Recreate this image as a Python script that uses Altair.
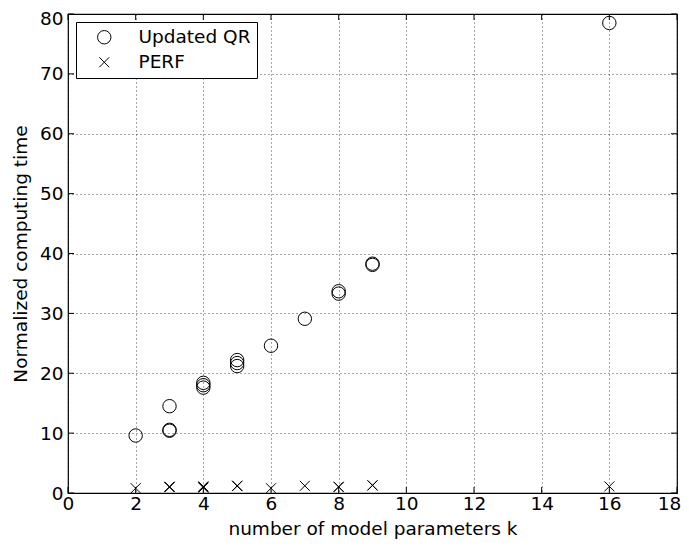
import altair as alt
import pandas as pd

# ---- data ----
series = ["Updated QR", "PERF"]
qr_k = [2, 3, 3, 3, 4, 4, 4, 5, 5, 5, 6, 7, 8, 8, 9, 9, 16]
qr_time = [9.6, 14.5, 10.4, 10.55, 18.4, 18.0, 17.6, 22.2, 21.7, 21.2, 24.6, 29.1, 33.7, 33.3, 38.1, 38.3, 78.5]
perf_k = [2, 3, 3, 3, 4, 4, 4, 5, 5, 5, 6, 7, 8, 8, 9, 9, 16]
perf_time = [0.8, 1.0, 1.05, 1.0, 1.0, 1.1, 0.9, 1.2, 1.15, 1.2, 0.8, 1.2, 1.0, 1.05, 1.3, 1.25, 1.1]
x_ticks = [0, 2, 4, 6, 8, 10, 12, 14, 16, 18]
y_ticks = [0, 10, 20, 30, 40, 50, 60, 70, 80]

df = pd.concat([
    pd.DataFrame({"k": qr_k, "time": qr_time, "series": series[0]}),
    pd.DataFrame({"k": perf_k, "time": perf_time, "series": series[1]}),
])
xt = pd.DataFrame({"k": x_ticks})
yt = pd.DataFrame({"time": y_ticks})

W, H = 609, 479
FONT = "DejaVu Sans"
FS = 18.5
XPATH = "M-1,-1L1,1M1,-1L-1,1"

xscale = alt.Scale(domain=[0, 18], nice=False, zero=False)
yscale = alt.Scale(domain=[0, 80], nice=False, zero=False)

axis_style = dict(grid=True, gridDash=[1, 3], gridColor="#000", gridOpacity=0.7,
                  tickSize=0, domain=False, labelFlush=False, format="d",
                  labelFont=FONT, labelFontSize=FS, labelColor="black",
                  titleFont=FONT, titleFontSize=FS, titleColor="black",
                  titleFontWeight="normal")
# end labels nudged inward so they stay inside the page
xaxis = alt.Axis(values=x_ticks, title="number of model parameters k",
                 labelPadding=1, titlePadding=7,
                 labelOffset={"condition": {"test": "datum.value >= 18", "value": -8}, "value": 0},
                 **axis_style)
yaxis = alt.Axis(values=y_ticks, title="Normalized computing time",
                 labelPadding=5, titlePadding=9,
                 labelOffset={"condition": {"test": "datum.value >= 80", "value": 4}, "value": 0},
                 **axis_style)

legend = alt.Legend(orient="none", legendX=8, legendY=8, title=None,
                    strokeColor="black", fillColor="white", padding=6,
                    rowPadding=6, symbolOffset=13, labelOffset=25,
                    labelFont=FONT, labelFontSize=FS, labelColor="black",
                    symbolStrokeColor="black", symbolStrokeWidth=1, cornerRadius=0)

points = alt.Chart(df).mark_point(filled=False, strokeWidth=1, color="black", opacity=1).encode(
    x=alt.X("k:Q", scale=xscale, axis=xaxis),
    y=alt.Y("time:Q", scale=yscale, axis=yaxis),
    shape=alt.Shape("series:N", scale=alt.Scale(domain=series, range=["circle", XPATH]), legend=legend),
    size=alt.Size("series:N", scale=alt.Scale(domain=series, range=[180, 100]), legend=legend),
)

tick_top = alt.Chart(xt).mark_rule(color="black", strokeWidth=1).encode(
    x=alt.X("k:Q", scale=xscale, axis=xaxis), y=alt.value(0), y2=alt.value(6))
tick_bot = alt.Chart(xt).mark_rule(color="black", strokeWidth=1).encode(
    x=alt.X("k:Q", scale=xscale, axis=xaxis), y=alt.value(H), y2=alt.value(H - 6))
tick_left = alt.Chart(yt).mark_rule(color="black", strokeWidth=1).encode(
    y=alt.Y("time:Q", scale=yscale, axis=yaxis), x=alt.value(0), x2=alt.value(6))
tick_right = alt.Chart(yt).mark_rule(color="black", strokeWidth=1).encode(
    y=alt.Y("time:Q", scale=yscale, axis=yaxis), x=alt.value(W), x2=alt.value(W - 6))

chart = alt.layer(points, tick_top, tick_bot, tick_left, tick_right).properties(
    width=W, height=H,
    background="white",
    autosize=alt.AutoSizeParams(type="none"),
    padding={"left": 60, "top": 6, "right": 4, "bottom": 46},
).configure_view(
    stroke="black", strokeWidth=1.2
)

chart.save("out.html", embed_options={"renderer": "svg", "actions": False})
